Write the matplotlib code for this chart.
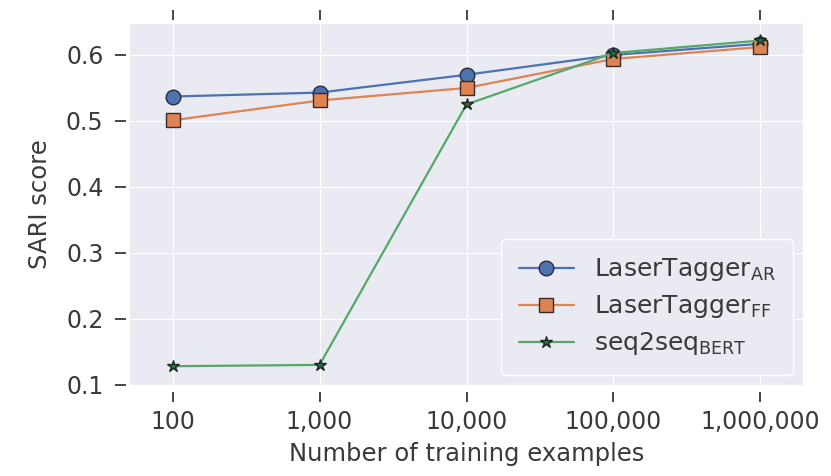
import numpy as np
import matplotlib.pyplot as plt
from matplotlib.ticker import FixedLocator, NullLocator

plt.style.use('seaborn-v0_8-darkgrid')
plt.rcParams['font.family'] = ['DejaVu Sans']

n_examples = [100, 1000, 10000, 100000, 1000000]
tick_labels = ['100', '1,000', '10,000', '100,000', '1,000,000']
sari_ar = [0.537, 0.543, 0.570, 0.600, 0.617]
sari_ff = [0.501, 0.531, 0.550, 0.594, 0.612]
sari_s2s = [0.128, 0.130, 0.525, 0.603, 0.622]

fig = plt.figure(figsize=(8.31, 4.76), dpi=100)
ax = fig.add_axes([130/831, 1-385/476, 673/831, 361/476])

ax.plot(n_examples, sari_ar, marker='o', color='#4C72B0', lw=1.6, ms=10.5,
        mec='#2a2a3a', mew=1.0, label=r'LaserTagger$_{\mathrm{AR}}$')
ax.plot(n_examples, sari_ff, marker='s', color='#DD8452', lw=1.6, ms=10,
        mec='#3a2a2a', mew=1.0, label=r'LaserTagger$_{\mathrm{FF}}$')
ax.plot(n_examples, sari_s2s, marker='*', color='#55A868', lw=1.6, ms=9,
        mfc='#2f6b45', mec='#1a2a22', mew=1.0, label=r'seq2seq$_{\mathrm{BERT}}$')

ax.set_xscale('log')
ax.set_xlim(10**1.71, 10**6.29)
ax.set_ylim(0.0995, 0.647)
ax.xaxis.set_major_locator(FixedLocator(n_examples))
ax.xaxis.set_minor_locator(NullLocator())
ax.set_xticklabels(tick_labels)
ax.set_yticks([0.1, 0.2, 0.3, 0.4, 0.5, 0.6])

ax.spines['left'].set_position(('outward', 3))
ax.spines['top'].set_position(('outward', 3))
ax.spines['bottom'].set_position(('outward', 5))
ax.tick_params(axis='x', which='major', top=True, bottom=True, length=7, width=1.2,
               direction='out', color='#262626', labelsize=17, labelcolor='#3a3a3a', pad=6)
ax.tick_params(axis='y', which='major', left=True, length=8, width=1.2,
               direction='out', color='#262626', labelsize=17, labelcolor='#3a3a3a', pad=8)

ax.set_xlabel('Number of training examples', fontsize=17.5, color='#3a3a3a', labelpad=6)
ax.set_ylabel('SARI score', fontsize=17.5, color='#3a3a3a', labelpad=10)

leg = ax.legend(loc='lower right', fontsize=18, frameon=True, facecolor='#EAEAF2',
                edgecolor='white', framealpha=1, borderpad=0.7, handlelength=2.2,
                labelspacing=0.4, borderaxespad=0, bbox_to_anchor=(0.985, 0.028))
for t in leg.get_texts():
    t.set_color('#3a3a3a')

fig.savefig('out.png', dpi=100)
